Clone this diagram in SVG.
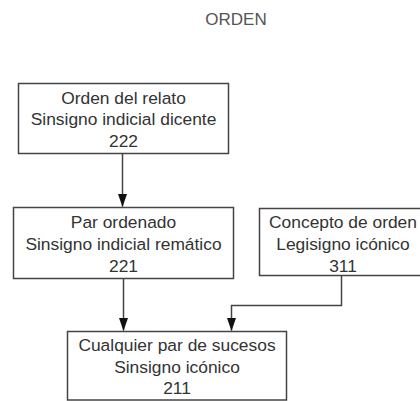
<svg xmlns="http://www.w3.org/2000/svg" width="420" height="401" viewBox="0 0 420 401">
<defs>
<marker id="ah" markerWidth="13" markerHeight="9" refX="12.5" refY="4.5" orient="auto" markerUnits="userSpaceOnUse" viewBox="0 0 13 9">
<path d="M0,0 L13,4.5 L0,9 Z" fill="#111"/>
</marker>
</defs>
<style>
.box{fill:#fff;stroke:#444;stroke-width:1.5}
.t{font-family:"Liberation Sans",Arial,sans-serif;font-size:17.4px;fill:#333;text-anchor:middle}
.c{fill:none;stroke:#444;stroke-width:1.5}
</style>
<rect width="420" height="401" fill="#fff"/>
<text class="t" x="236" y="25" style="fill:#555;font-size:17px">ORDEN</text>
<g id="n222">
<rect class="box" x="18.5" y="83.5" width="210" height="70"/>
<text class="t" x="123.5" y="103.5">Orden del relato</text>
<text class="t" x="123.5" y="125">Sinsigno indicial dicente</text>
<text class="t" x="123.5" y="146.5">222</text>
</g>
<g id="n221">
<rect class="box" x="13.5" y="207.5" width="220" height="71"/>
<text class="t" x="123.5" y="227.5">Par ordenado</text>
<text class="t" x="123.5" y="249.5">Sinsigno indicial remático</text>
<text class="t" x="123.5" y="271.5">221</text>
</g>
<g id="n311">
<rect class="box" x="259.5" y="208.5" width="168" height="67"/>
<text class="t" x="343" y="228">Concepto de orden</text>
<text class="t" x="343" y="250">Legisigno icónico</text>
<text class="t" x="343" y="271.5">311</text>
</g>
<g id="n211">
<rect class="box" x="67.5" y="331.5" width="219" height="68.5"/>
<text class="t" x="177" y="350.5">Cualquier par de sucesos</text>
<text class="t" x="177" y="373">Sinsigno icónico</text>
<text class="t" x="177" y="394">211</text>
</g>
<g id="connectors">
<path class="c" d="M122.5,154 V206.5" marker-end="url(#ah)"/>
<path class="c" d="M123.5,279 V330.5" marker-end="url(#ah)"/>
<path class="c" d="M341.5,276 V305.5 H231.5 V330.5" marker-end="url(#ah)"/>
</g>
</svg>
